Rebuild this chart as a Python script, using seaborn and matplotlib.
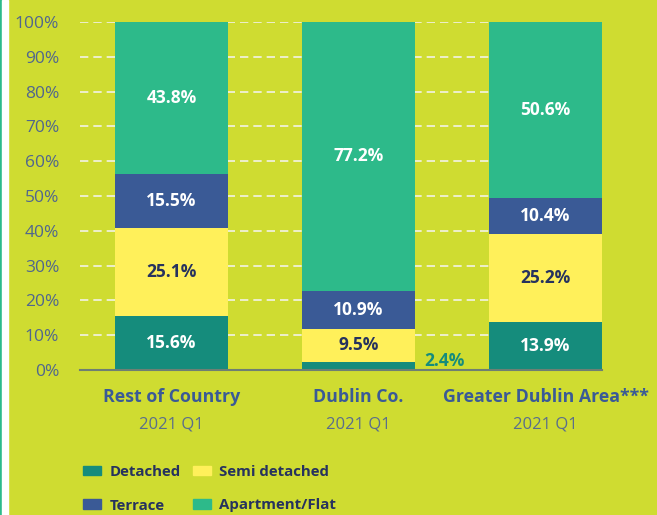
import numpy as np
import pandas as pd
import seaborn as sns
import matplotlib.pyplot as plt
from matplotlib.patches import Patch, Rectangle

# data
regions = ["Rest of Country", "Dublin Co.", "Greater Dublin Area***"]
periods = ["2021 Q1", "2021 Q1", "2021 Q1"]
types = ["Detached", "Semi detached", "Terrace", "Apartment/Flat"]
detached = [15.6, 2.4, 13.9]
semi_detached = [25.1, 9.5, 25.2]
terrace = [15.5, 10.9, 10.4]
apartment = [43.8, 77.2, 50.6]

colors = ["#158C7C", "#FFF05A", "#3A5A96", "#2DBA8A"]
label_colors = ["white", "#26325E", "white", "white"]
bg = "#CFDC31"

values = np.array([detached, semi_detached, terrace, apartment])
bottoms = np.vstack([np.zeros(3), np.cumsum(values, axis=0)[:-1]])

sns.set_theme(style="white")
plt.rcParams["font.family"] = ["Open Sans", "DejaVu Sans"]

fig = plt.figure(figsize=(6.57, 5.15), dpi=100, facecolor=bg)
ax = fig.add_axes([80 / 657, 1 - 370 / 515, (602 - 80) / 657, (370 - 22) / 515])
ax.set_facecolor(bg)

# left edge strips
fig.patches.append(Rectangle((0, 0), 2 / 657, 1, transform=fig.transFigure, color="#2DBA8A", zorder=0))
fig.patches.append(Rectangle((2 / 657, 0), 6 / 657, 1, transform=fig.transFigure, color="white", zorder=0))

for i, t in enumerate(types):
    df = pd.DataFrame({"region": regions, "value": values[i], "bottom": bottoms[i]})
    sns.barplot(data=df, x="region", y="value", bottom=df["bottom"], color=colors[i],
                width=0.605, saturation=1, ax=ax, zorder=3, linewidth=0, edgecolor="none")

# value labels
for i in range(4):
    for j in range(3):
        v = values[i, j]
        if v < 5:
            ax.text(j + 0.46, bottoms[i, j] + v / 2 + 1.5, f"{v}%", ha="center", va="center",
                    color="#158C7C", fontsize=12.5, fontweight="bold", zorder=4)
        else:
            ax.text(j, bottoms[i, j] + v / 2, f"{v}%", ha="center", va="center",
                    color=label_colors[i], fontsize=12.5, fontweight="bold", zorder=4)

ax.set_ylim(0, 100)
ax.set_xlim(-0.489, 2.302)
ax.set_yticks(np.arange(0, 101, 10))
ax.set_yticklabels([f"{t}%" for t in range(0, 101, 10)], color="#50668E", fontsize=12.5)
ax.yaxis.grid(True, color="#F2F2E6", linestyle=(0, (5, 3)), linewidth=1.2, zorder=0)
ax.set_axisbelow(True)
ax.tick_params(axis="y", length=0, pad=15)
ax.set_xticks([0, 1, 2])
ax.set_xticklabels([])
ax.tick_params(axis="x", length=0)
ax.set_xlabel("")
ax.set_ylabel("")
for s in ["top", "right", "left"]:
    ax.spines[s].set_visible(False)
ax.spines["bottom"].set_color("#6E7F73")
ax.spines["bottom"].set_linewidth(1.5)
ax.spines["bottom"].set_zorder(5)

for j, (r, p) in enumerate(zip(regions, periods)):
    ax.text(j, -7.9, r, ha="center", va="center", color="#3A5A96", fontsize=12.8,
            fontweight="bold", transform=ax.transData, clip_on=False)
    ax.text(j, -15.6, p, ha="center", va="center", color="#5A6E8C", fontsize=12,
            transform=ax.transData, clip_on=False)

handles = [Patch(color=colors[0], label=types[0]), Patch(color=colors[2], label=types[2]),
           Patch(color=colors[1], label=types[1]), Patch(color=colors[3], label=types[3])]
leg = fig.legend(handles=handles, ncol=2, loc="upper left", bbox_to_anchor=(77 / 657, 1 - 459 / 515),
                 frameon=False, fontsize=10.8, handlelength=1.2, handleheight=0.6,
                 labelspacing=1.3, columnspacing=0.8, handletextpad=0.55, borderaxespad=0)
for txt in leg.get_texts():
    txt.set_color("#26325E")
    txt.set_fontweight("bold")

fig.savefig("out.png", dpi=100, facecolor=bg)
